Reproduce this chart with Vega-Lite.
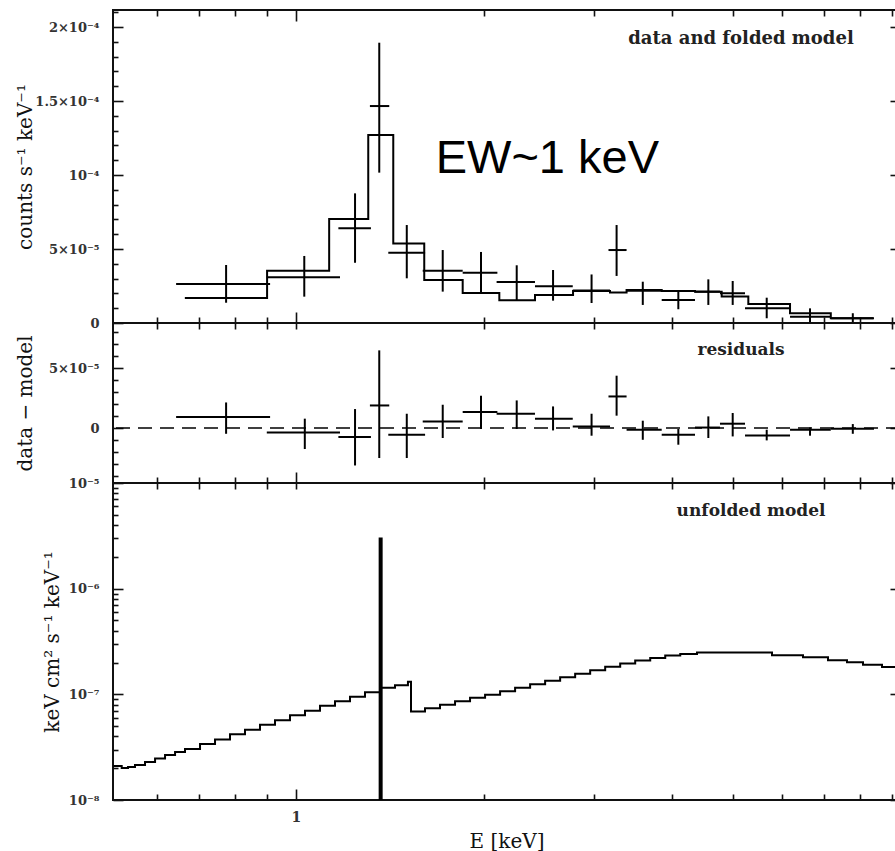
{
  "$schema": "https://vega.github.io/schema/vega-lite/v6.json",
  "autosize": {"type": "none"},
  "padding": {"left": 113, "top": 10, "right": 782, "bottom": 841},
  "background": "white",
  "bounds": "flush",
  "spacing": 0,
  "config": {
    "view": {"stroke": "#111", "strokeWidth": 2},
    "axis": {"grid": false, "domain": false, "labelFont": "DejaVu Serif", "labelFontSize": 13, "labelFontWeight": "bold", "labelColor": "#333", "titleFont": "DejaVu Serif", "titleFontSize": 20, "titleFontWeight": "normal", "titleColor": "#111", "tickColor": "#111", "tickWidth": 1.6, "labelOverlap": false, "labelFlush": false}
  },
  "datasets": {
    "foldedModel": [
      {"E": 0.664, "val": 1.69e-5}, {"E": 0.899, "val": 3.53e-5}, {"E": 1.130, "val": 7.03e-5}, {"E": 1.305, "val": 1.270e-4},
      {"E": 1.431, "val": 5.37e-5}, {"E": 1.604, "val": 2.91e-5}, {"E": 1.848, "val": 2.03e-5}, {"E": 2.115, "val": 1.53e-5},
      {"E": 2.412, "val": 1.89e-5}, {"E": 2.775, "val": 2.16e-5}, {"E": 3.180, "val": 2.06e-5}, {"E": 3.380, "val": 2.23e-5},
      {"E": 3.847, "val": 2.16e-5}, {"E": 4.349, "val": 2.12e-5}, {"E": 4.798, "val": 1.79e-5}, {"E": 5.293, "val": 1.28e-5},
      {"E": 6.172, "val": 6.6e-6}, {"E": 7.172, "val": 3.2e-6}, {"E": 8.388, "val": 3.2e-6}
    ],
    "spectrum": [
      {"E": 0.773, "lo": 0.643, "hi": 0.909, "y": 2.64e-5, "ylo": 1.37e-5, "yhi": 3.92e-5},
      {"E": 1.031, "lo": 0.898, "hi": 1.176, "y": 3.09e-5, "ylo": 1.78e-5, "yhi": 4.53e-5},
      {"E": 1.243, "lo": 1.169, "hi": 1.318, "y": 6.40e-5, "ylo": 4.07e-5, "yhi": 8.76e-5},
      {"E": 1.359, "lo": 1.313, "hi": 1.410, "y": 1.466e-4, "ylo": 1.016e-4, "yhi": 1.894e-4},
      {"E": 1.504, "lo": 1.405, "hi": 1.609, "y": 4.75e-5, "ylo": 3.02e-5, "yhi": 6.62e-5},
      {"E": 1.717, "lo": 1.595, "hi": 1.848, "y": 3.53e-5, "ylo": 2.12e-5, "yhi": 4.93e-5},
      {"E": 1.977, "lo": 1.848, "hi": 2.100, "y": 3.40e-5, "ylo": 2.05e-5, "yhi": 4.80e-5},
      {"E": 2.255, "lo": 2.094, "hi": 2.412, "y": 2.77e-5, "ylo": 1.55e-5, "yhi": 3.90e-5},
      {"E": 2.578, "lo": 2.412, "hi": 2.772, "y": 2.48e-5, "ylo": 1.51e-5, "yhi": 3.58e-5},
      {"E": 2.971, "lo": 2.772, "hi": 3.180, "y": 2.20e-5, "ylo": 1.35e-5, "yhi": 3.28e-5},
      {"E": 3.258, "lo": 3.162, "hi": 3.380, "y": 4.93e-5, "ylo": 3.18e-5, "yhi": 6.62e-5},
      {"E": 3.588, "lo": 3.380, "hi": 3.847, "y": 2.18e-5, "ylo": 1.22e-5, "yhi": 2.79e-5},
      {"E": 4.090, "lo": 3.847, "hi": 4.349, "y": 1.55e-5, "ylo": 9.3e-6, "yhi": 2.23e-5},
      {"E": 4.568, "lo": 4.349, "hi": 4.768, "y": 2.12e-5, "ylo": 1.22e-5, "yhi": 2.95e-5},
      {"E": 4.997, "lo": 4.768, "hi": 5.229, "y": 2.01e-5, "ylo": 1.22e-5, "yhi": 2.84e-5},
      {"E": 5.664, "lo": 5.229, "hi": 6.172, "y": 9.9e-6, "ylo": 3.2e-6, "yhi": 1.71e-5},
      {"E": 6.644, "lo": 6.172, "hi": 7.172, "y": 4.3e-6, "ylo": 0, "yhi": 9.9e-6},
      {"E": 7.778, "lo": 7.172, "hi": 8.409, "y": 3.2e-6, "ylo": 0, "yhi": 6.6e-6}
    ],
    "residuals": [
      {"E": 0.773, "lo": 0.643, "hi": 0.909, "y": 9.2e-6, "ylo": -4.8e-6, "yhi": 2.13e-5},
      {"E": 1.033, "lo": 0.898, "hi": 1.176, "y": -3.7e-6, "ylo": -1.75e-5, "yhi": 7.8e-6},
      {"E": 1.243, "lo": 1.169, "hi": 1.318, "y": -7.5e-6, "ylo": -3.12e-5, "yhi": 1.58e-5},
      {"E": 1.359, "lo": 1.313, "hi": 1.410, "y": 1.88e-5, "ylo": -2.5e-5, "yhi": 6.47e-5},
      {"E": 1.504, "lo": 1.405, "hi": 1.609, "y": -5.6e-6, "ylo": -2.5e-5, "yhi": 1.19e-5},
      {"E": 1.717, "lo": 1.595, "hi": 1.848, "y": 5.5e-6, "ylo": -8.3e-6, "yhi": 1.94e-5},
      {"E": 1.977, "lo": 1.848, "hi": 2.100, "y": 1.33e-5, "ylo": -8e-7, "yhi": 2.69e-5},
      {"E": 2.255, "lo": 2.094, "hi": 2.412, "y": 1.19e-5, "ylo": -8e-7, "yhi": 2.30e-5},
      {"E": 2.578, "lo": 2.412, "hi": 2.772, "y": 7.8e-6, "ylo": -2.0e-6, "yhi": 1.80e-5},
      {"E": 2.971, "lo": 2.772, "hi": 3.180, "y": 1.3e-6, "ylo": -6.4e-6, "yhi": 1.19e-5},
      {"E": 3.258, "lo": 3.162, "hi": 3.380, "y": 2.63e-5, "ylo": 1.03e-5, "yhi": 4.36e-5},
      {"E": 3.588, "lo": 3.380, "hi": 3.847, "y": -1.4e-6, "ylo": -9.8e-6, "yhi": 6.1e-6},
      {"E": 4.090, "lo": 3.847, "hi": 4.349, "y": -5.6e-6, "ylo": -1.39e-5, "yhi": -8e-7},
      {"E": 4.568, "lo": 4.349, "hi": 4.768, "y": 4e-7, "ylo": -8.3e-6, "yhi": 9.7e-6},
      {"E": 4.997, "lo": 4.768, "hi": 5.229, "y": 3.6e-6, "ylo": -7.0e-6, "yhi": 1.25e-5},
      {"E": 5.664, "lo": 5.229, "hi": 6.172, "y": -6.2e-6, "ylo": -1.03e-5, "yhi": -1.4e-6},
      {"E": 6.644, "lo": 6.172, "hi": 7.172, "y": -1.4e-6, "ylo": -6.4e-6, "yhi": 5e-7},
      {"E": 7.778, "lo": 7.172, "hi": 8.409, "y": -6e-7, "ylo": -4.8e-6, "yhi": 3.3e-6}
    ],
    "unfoldedModel": [
      {"E": 0.5102, "val": 2.099e-8}, {"E": 0.5262, "val": 2.009e-8}, {"E": 0.5386, "val": 2.052e-8}, {"E": 0.5526, "val": 2.145e-8},
      {"E": 0.5734, "val": 2.291e-8}, {"E": 0.5950, "val": 2.473e-8}, {"E": 0.6173, "val": 2.669e-8}, {"E": 0.6405, "val": 2.851e-8},
      {"E": 0.6644, "val": 3.044e-8}, {"E": 0.7022, "val": 3.396e-8}, {"E": 0.7421, "val": 3.746e-8}, {"E": 0.7842, "val": 4.179e-8},
      {"E": 0.8287, "val": 4.611e-8}, {"E": 0.8758, "val": 5.143e-8}, {"E": 0.9256, "val": 5.675e-8}, {"E": 0.9781, "val": 6.329e-8},
      {"E": 1.0337, "val": 6.987e-8}, {"E": 1.0924, "val": 7.793e-8}, {"E": 1.1545, "val": 8.601e-8}, {"E": 1.2201, "val": 9.489e-8},
      {"E": 1.2894, "val": 1.0468e-7}, {"E": 1.3627, "val": 1.1551e-7}, {"E": 1.4401, "val": 1.2200e-7}, {"E": 1.5105, "val": 1.3173e-7},
      {"E": 1.5276, "val": 6.880e-8}, {"E": 1.6085, "val": 7.379e-8}, {"E": 1.7000, "val": 7.960e-8}, {"E": 1.7967, "val": 8.601e-8},
      {"E": 1.8988, "val": 9.283e-8}, {"E": 2.0069, "val": 9.913e-8}, {"E": 2.1210, "val": 1.0700e-7}, {"E": 2.2416, "val": 1.1551e-7},
      {"E": 2.3691, "val": 1.2471e-7}, {"E": 2.5038, "val": 1.3463e-7}, {"E": 2.6462, "val": 1.4535e-7}, {"E": 2.7967, "val": 1.5692e-7},
      {"E": 2.9557, "val": 1.6940e-7}, {"E": 3.1238, "val": 1.8288e-7}, {"E": 3.3014, "val": 1.9527e-7}, {"E": 3.4891, "val": 2.0848e-7},
      {"E": 3.6875, "val": 2.2020e-7}, {"E": 3.8972, "val": 2.3256e-7}, {"E": 4.1188, "val": 2.4031e-7}, {"E": 4.3813, "val": 2.4831e-7},
      {"E": 5.7758, "val": 2.3406e-7}, {"E": 6.4747, "val": 2.2405e-7}, {"E": 7.0990, "val": 2.0985e-7}, {"E": 7.6141, "val": 2.0086e-7},
      {"E": 8.0759, "val": 1.9099e-7}, {"E": 8.6620, "val": 1.8163e-7}, {"E": 9.255, "val": 1.8163e-7}
    ]
  },
  "vconcat": [
    {
      "width": 787, "height": 313,
      "resolve": {"axis": {"x": "independent", "y": "independent"}},
      "layer": [
        {
          "data": {"name": "foldedModel"},
          "mark": {"type": "line", "interpolate": "step-after", "color": "#000", "strokeWidth": 2},
          "encoding": {
            "x": {"field": "E", "type": "quantitative", "scale": {"type": "log", "domain": [0.5096, 9.255], "nice": false},
                  "axis": {"orient": "bottom", "values": [0.6, 0.7, 0.8, 0.9, 2, 3, 4, 5, 6, 7, 8, 9], "labels": false, "offset": -6, "tickSize": 6, "title": null}},
            "y": {"field": "val", "type": "quantitative", "scale": {"domain": [0, 2.115e-4], "nice": false, "zero": false},
                  "axis": {"orient": "left", "values": [1e-5, 2e-5, 3e-5, 4e-5, 6e-5, 7e-5, 8e-5, 9e-5, 1.1e-4, 1.2e-4, 1.3e-4, 1.4e-4, 1.6e-4, 1.7e-4, 1.8e-4, 1.9e-4, 2.1e-4], "labels": false, "offset": -5, "tickSize": 5, "title": null}}
          }
        },
        {
          "data": {"name": "spectrum"},
          "mark": {"type": "rule", "color": "#000", "strokeWidth": 2},
          "encoding": {
            "x": {"field": "lo", "type": "quantitative", "scale": {"type": "log", "domain": [0.5096, 9.255], "nice": false},
                  "axis": {"orient": "top", "values": [0.6, 0.7, 0.8, 0.9, 2, 3, 4, 5, 6, 7, 8, 9], "labels": false, "offset": -6, "tickSize": 6, "title": null}},
            "x2": {"field": "hi"},
            "y": {"field": "y", "type": "quantitative", "scale": {"domain": [0, 2.115e-4], "nice": false, "zero": false},
                  "axis": {"orient": "right", "values": [0, 5e-5, 1e-4, 1.5e-4, 2e-4], "labels": false, "offset": -10, "tickSize": 10, "title": null}}
          }
        },
        {
          "data": {"name": "spectrum"},
          "mark": {"type": "rule", "color": "#000", "strokeWidth": 2},
          "encoding": {
            "x": {"field": "E", "type": "quantitative", "scale": {"type": "log", "domain": [0.5096, 9.255], "nice": false},
                  "axis": {"orient": "bottom", "values": [1], "labels": false, "offset": -11, "tickSize": 11, "title": null}},
            "y": {"field": "ylo", "type": "quantitative", "scale": {"domain": [0, 2.115e-4], "nice": false, "zero": false},
                  "axis": {"orient": "left", "values": [0, 5e-5, 1e-4, 1.5e-4, 2e-4], "offset": -10, "tickSize": 10, "labelPadding": 14,
                           "labelExpr": "datum.value < 1e-6 ? '0' : datum.value < 6e-5 ? '5×10⁻⁵' : datum.value < 1.1e-4 ? '10⁻⁴' : datum.value < 1.6e-4 ? '1.5×10⁻⁴' : '2×10⁻⁴'",
                           "title": "counts s⁻¹ keV⁻¹", "titleX": -98, "titleBaseline": "middle"}},
            "y2": {"field": "yhi"}
          }
        },
        {
          "data": {"values": [{"E": 1.673, "y": 1.0115e-4, "label": "EW~1 keV"}]},
          "mark": {"type": "text", "font": "Liberation Sans", "fontSize": 47, "align": "left", "baseline": "alphabetic", "color": "#000"},
          "encoding": {
            "x": {"field": "E", "type": "quantitative", "scale": {"type": "log", "domain": [0.5096, 9.255], "nice": false},
                  "axis": {"orient": "top", "values": [1], "labels": false, "offset": -11, "tickSize": 11, "title": null}},
            "y": {"field": "y", "type": "quantitative", "scale": {"domain": [0, 2.115e-4], "nice": false, "zero": false}, "axis": null},
            "text": {"field": "label"}
          }
        },
        {
          "data": {"values": [{"E": 5.152, "y": 1.917e-4, "label": "data and folded model"}]},
          "mark": {"type": "text", "font": "DejaVu Serif", "fontSize": 18, "fontWeight": "bold", "align": "center", "baseline": "middle", "color": "#222"},
          "encoding": {
            "x": {"field": "E", "type": "quantitative", "scale": {"type": "log", "domain": [0.5096, 9.255], "nice": false}, "axis": null},
            "y": {"field": "y", "type": "quantitative", "scale": {"domain": [0, 2.115e-4], "nice": false, "zero": false}, "axis": null},
            "text": {"field": "label"}
          }
        }
      ]
    },
    {
      "width": 787, "height": 160,
      "resolve": {"axis": {"x": "independent", "y": "independent"}},
      "layer": [
        {
          "data": {"values": [{"y": 0}]},
          "mark": {"type": "rule", "color": "#000", "strokeWidth": 1.5, "strokeDash": [14, 8]},
          "encoding": {
            "y": {"field": "y", "type": "quantitative", "scale": {"domain": [-4.58e-5, 8.75e-5], "nice": false, "zero": false},
                  "axis": {"orient": "left", "values": [0, 5e-5], "offset": -10, "tickSize": 10, "labelPadding": 14,
                           "labelExpr": "datum.value < 1e-6 ? '0' : '5×10⁻⁵'",
                           "title": "data − model", "titleX": -98, "titleBaseline": "middle"}}
          }
        },
        {
          "data": {"name": "residuals"},
          "mark": {"type": "rule", "color": "#000", "strokeWidth": 2},
          "encoding": {
            "x": {"field": "lo", "type": "quantitative", "scale": {"type": "log", "domain": [0.5096, 9.255], "nice": false},
                  "axis": {"orient": "bottom", "values": [0.6, 0.7, 0.8, 0.9, 2, 3, 4, 5, 6, 7, 8, 9], "labels": false, "offset": -6, "tickSize": 6, "title": null}},
            "x2": {"field": "hi"},
            "y": {"field": "y", "type": "quantitative", "scale": {"domain": [-4.58e-5, 8.75e-5], "nice": false, "zero": false},
                  "axis": {"orient": "left", "values": [-4e-5, -3e-5, -2e-5, -1e-5, 1e-5, 2e-5, 3e-5, 4e-5, 6e-5, 7e-5, 8e-5], "labels": false, "offset": -5, "tickSize": 5, "title": null}}
          }
        },
        {
          "data": {"name": "residuals"},
          "mark": {"type": "rule", "color": "#000", "strokeWidth": 2},
          "encoding": {
            "x": {"field": "E", "type": "quantitative", "scale": {"type": "log", "domain": [0.5096, 9.255], "nice": false},
                  "axis": {"orient": "top", "values": [0.6, 0.7, 0.8, 0.9, 1, 2, 3, 4, 5, 6, 7, 8, 9], "labels": false, "offset": -6, "tickSize": 6, "title": null}},
            "y": {"field": "ylo", "type": "quantitative", "scale": {"domain": [-4.58e-5, 8.75e-5], "nice": false, "zero": false},
                  "axis": {"orient": "right", "values": [0, 5e-5], "labels": false, "offset": -10, "tickSize": 10, "title": null}},
            "y2": {"field": "yhi"}
          }
        },
        {
          "data": {"values": [{"E": 5.152, "y": 6.525e-5, "label": "residuals"}]},
          "mark": {"type": "text", "font": "DejaVu Serif", "fontSize": 17, "fontWeight": "bold", "align": "center", "baseline": "middle", "color": "#222"},
          "encoding": {
            "x": {"field": "E", "type": "quantitative", "scale": {"type": "log", "domain": [0.5096, 9.255], "nice": false},
                  "axis": {"orient": "bottom", "values": [1], "labels": false, "offset": -11, "tickSize": 11, "title": null}},
            "y": {"field": "y", "type": "quantitative", "scale": {"domain": [-4.58e-5, 8.75e-5], "nice": false, "zero": false}, "axis": null},
            "text": {"field": "label"}
          }
        }
      ]
    },
    {
      "width": 787, "height": 317,
      "resolve": {"axis": {"x": "independent", "y": "independent"}},
      "layer": [
        {
          "data": {"name": "unfoldedModel"},
          "mark": {"type": "line", "interpolate": "step-after", "color": "#000", "strokeWidth": 2},
          "encoding": {
            "x": {"field": "E", "type": "quantitative", "scale": {"type": "log", "domain": [0.5096, 9.255], "nice": false},
                  "axis": {"orient": "bottom", "values": [0.6, 0.7, 0.8, 0.9, 2, 3, 4, 5, 6, 7, 8, 9], "labels": false, "offset": -6, "tickSize": 6, "title": null}},
            "y": {"field": "val", "type": "quantitative", "scale": {"type": "log", "domain": [1e-8, 1e-5], "nice": false},
                  "axis": {"orient": "left", "values": [2e-8, 3e-8, 4e-8, 5e-8, 6e-8, 7e-8, 8e-8, 9e-8, 2e-7, 3e-7, 4e-7, 5e-7, 6e-7, 7e-7, 8e-7, 9e-7, 2e-6, 3e-6, 4e-6, 5e-6, 6e-6, 7e-6, 8e-6, 9e-6], "labels": false, "offset": -5, "tickSize": 5, "title": null}}
          }
        },
        {
          "data": {"values": [{"E": 1.366, "top": 3.05e-6, "base": 1e-8}]},
          "mark": {"type": "rule", "color": "#000", "strokeWidth": 4},
          "encoding": {
            "x": {"field": "E", "type": "quantitative", "scale": {"type": "log", "domain": [0.5096, 9.255], "nice": false},
                  "axis": {"orient": "top", "values": [0.6, 0.7, 0.8, 0.9, 1, 2, 3, 4, 5, 6, 7, 8, 9], "labels": false, "offset": -6, "tickSize": 6, "title": null}},
            "y": {"field": "top", "type": "quantitative", "scale": {"type": "log", "domain": [1e-8, 1e-5], "nice": false},
                  "axis": {"orient": "right", "values": [1e-8, 1e-7, 1e-6, 1e-5], "labels": false, "offset": -10, "tickSize": 10, "title": null}},
            "y2": {"field": "base"}
          }
        },
        {
          "data": {"values": [{"E": 5.346, "y": 5.46e-6, "label": "unfolded model"}]},
          "mark": {"type": "text", "font": "DejaVu Serif", "fontSize": 17, "fontWeight": "bold", "align": "center", "baseline": "middle", "color": "#222"},
          "encoding": {
            "x": {"field": "E", "type": "quantitative", "scale": {"type": "log", "domain": [0.5096, 9.255], "nice": false},
                  "axis": {"orient": "bottom", "values": [1], "offset": -11, "tickSize": 11, "labelPadding": 10, "labelExpr": "'1'", "labelFontSize": 14,
                           "title": "E [keV]", "titleY": 52, "titleBaseline": "middle"}},
            "y": {"field": "y", "type": "quantitative", "scale": {"type": "log", "domain": [1e-8, 1e-5], "nice": false},
                  "axis": {"orient": "left", "values": [1e-8, 1e-7, 1e-6, 1e-5], "offset": -10, "tickSize": 10, "labelPadding": 14,
                           "labelExpr": "datum.value < 5e-8 ? '10⁻⁸' : datum.value < 5e-7 ? '10⁻⁷' : datum.value < 5e-6 ? '10⁻⁶' : '10⁻⁵'",
                           "title": "keV cm² s⁻¹ keV⁻¹", "titleX": -71, "titleBaseline": "middle"}},
            "text": {"field": "label"}
          }
        }
      ]
    }
  ]
}
